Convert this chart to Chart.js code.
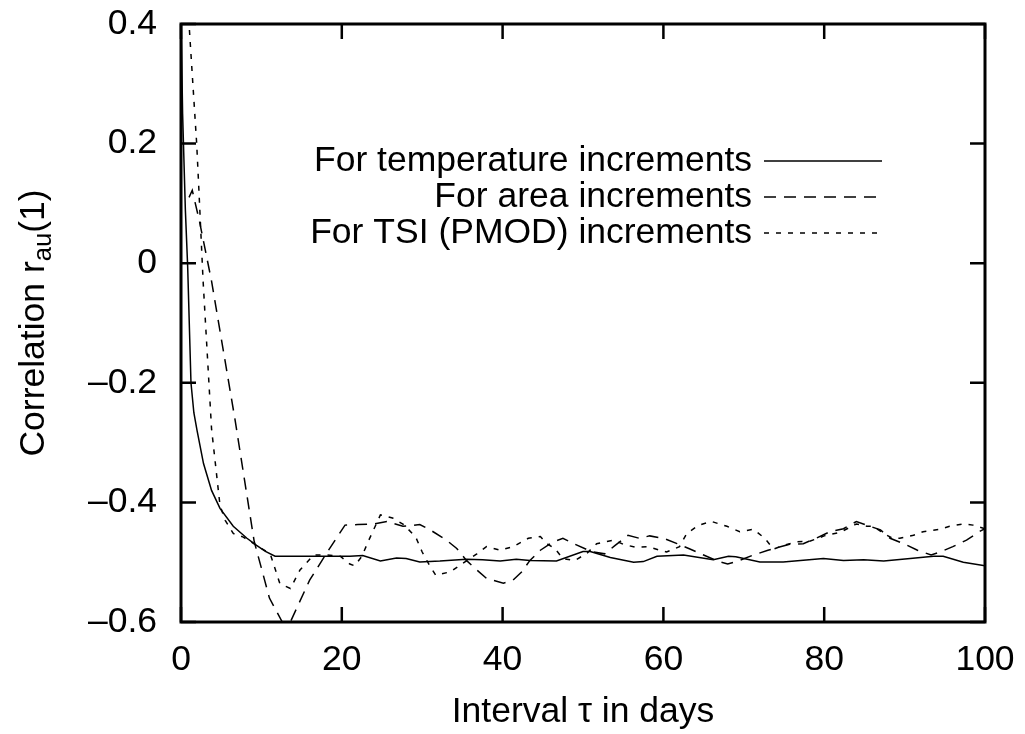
<!DOCTYPE html>
<html>
<head>
<meta charset="utf-8">
<script src="https://cdn.jsdelivr.net/npm/chart.js@4/dist/chart.umd.min.js"></script>
<style>
  html, body { margin: 0; padding: 0; background: #fff; }
  canvas { display: block; }
</style>
</head>
<body>
<canvas id="chart" width="1025" height="734"></canvas>
<script>
// values
const tempTau = [0, 0.2, 0.54, 0.83, 1.24, 1.6, 2.0, 2.8, 3.8, 4.85, 6.5, 8.2, 9.4, 10.5, 11.7, 14.8, 18, 21, 22.6, 24.8, 26.8, 28, 29.7, 32.2, 35.5, 37.5, 39.7, 41.7, 43.4, 46.7, 50, 50.9, 53.4, 56.3, 57.5, 59.2, 62.5, 66.2, 68.1, 69, 72, 74.9, 79.9, 82.4, 84.9, 87.4, 90.7, 93.6, 94.8, 97.3, 100];
const tempCorr = [0.42, 0.25, 0.09, -0.006, -0.2, -0.25, -0.28, -0.335, -0.38, -0.41, -0.44, -0.46, -0.472, -0.482, -0.49, -0.49, -0.49, -0.49, -0.489, -0.498, -0.493, -0.494, -0.4995, -0.498, -0.495, -0.496, -0.498, -0.495, -0.497, -0.498, -0.482, -0.482, -0.492, -0.5, -0.499, -0.49, -0.488, -0.496, -0.49, -0.491, -0.4995, -0.4995, -0.494, -0.497, -0.496, -0.498, -0.494, -0.49, -0.49, -0.5, -0.506];

const areaTau = [1, 1.4, 2.3, 3.8, 6.7, 9.1, 11, 12.6, 13.6, 16, 18.1, 20.4, 22, 24, 25.6, 27.6, 29.7, 31, 33, 34.3, 35.5, 36.8, 38, 40.1, 41.3, 42.4, 43.4, 44.7, 46.3, 47.5, 49, 51, 52.7, 54, 55.6, 57, 58.3, 60, 61.7, 63.3, 65, 66.7, 68, 69.5, 71, 73, 75.7, 77.4, 79, 80.7, 82.4, 84, 85.7, 87, 88.2, 89.9, 91.6, 93.3, 94.4, 96, 97.7, 99.4, 100];
const areaCorr = [0.11, 0.122, 0.07, -0.03, -0.26, -0.465, -0.56, -0.6, -0.6, -0.53, -0.485, -0.438, -0.437, -0.436, -0.432, -0.44, -0.437, -0.446, -0.463, -0.477, -0.497, -0.513, -0.527, -0.535, -0.53, -0.516, -0.497, -0.48, -0.466, -0.46, -0.47, -0.482, -0.486, -0.472, -0.455, -0.46, -0.456, -0.46, -0.469, -0.478, -0.488, -0.498, -0.503, -0.497, -0.489, -0.48, -0.47, -0.469, -0.46, -0.449, -0.444, -0.432, -0.44, -0.446, -0.46, -0.469, -0.48, -0.488, -0.483, -0.474, -0.463, -0.448, -0.444];

const tsiTau = [0.8, 1.0, 1.95, 2.2, 2.75, 3.8, 4.85, 5.5, 6.5, 7.75, 9.4, 11.1, 12.3, 13.6, 14.8, 16.5, 18.1, 19.8, 21, 21.6, 22.5, 23.3, 24.8, 26.3, 27.7, 29.2, 30, 30.9, 31.7, 33.5, 34.7, 36.8, 38, 39.7, 41.3, 43.2, 44.7, 45.5, 46.5, 47.5, 49, 50.5, 51.7, 53.8, 55, 56.5, 58, 60.4, 62, 62.9, 64.4, 66, 67.9, 69.5, 71.2, 72.6, 73.7, 74.9, 76.6, 78.2, 80, 82, 84, 85.3, 86.1, 87.4, 88.5, 89.4, 91.1, 92.3, 94.4, 95.6, 97.3, 98.5, 100];
const tsiCorr = [0.45, 0.4, 0.2, 0.13, -0.03, -0.277, -0.405, -0.43, -0.452, -0.458, -0.472, -0.486, -0.536, -0.544, -0.513, -0.488, -0.488, -0.49, -0.503, -0.506, -0.49, -0.465, -0.421, -0.426, -0.437, -0.458, -0.483, -0.505, -0.522, -0.516, -0.505, -0.486, -0.474, -0.48, -0.474, -0.46, -0.457, -0.469, -0.477, -0.494, -0.497, -0.485, -0.469, -0.463, -0.47, -0.475, -0.474, -0.483, -0.474, -0.452, -0.438, -0.432, -0.44, -0.449, -0.445, -0.46, -0.478, -0.472, -0.466, -0.465, -0.456, -0.45, -0.436, -0.44, -0.44, -0.452, -0.46, -0.46, -0.455, -0.449, -0.445, -0.44, -0.436, -0.438, -0.444];

const seriesLabels = ["For temperature increments", "For area increments", "For TSI (PMOD) increments"];

const xTicks = [0, 20, 40, 60, 80, 100];
const xTickLabels = ["0", "20", "40", "60", "80", "100"];
const yTicks = [-0.6, -0.4, -0.2, 0, 0.2, 0.4];
const yTickLabels = ["\u20130.6", "\u20130.4", "\u20130.2", "0", "0.2", "0.4"];

const family = "'Liberation Sans', Arial, Helvetica, sans-serif";
const fontSize = 35.5;

function points(xs, ys) {
  return xs.map((x, i) => ({ x, y: ys[i] }));
}

// gnuplot style frame, inward ticks, key and axis titles
const gnuplotFrame = {
  id: "gnuplotFrame",
  afterDatasetsDraw(chart) {
    const ctx = chart.ctx;
    const a = chart.chartArea;
    const sx = chart.scales.x;
    const sy = chart.scales.y;
    const tick = 15;

    ctx.save();
    ctx.strokeStyle = "#000";
    ctx.lineWidth = 2.5;
    ctx.beginPath();
    xTicks.forEach((v) => {
      const px = sx.getPixelForValue(v);
      ctx.moveTo(px, a.bottom);
      ctx.lineTo(px, a.bottom - tick);
      ctx.moveTo(px, a.top);
      ctx.lineTo(px, a.top + tick);
    });
    yTicks.forEach((v) => {
      const py = sy.getPixelForValue(v);
      ctx.moveTo(a.left, py);
      ctx.lineTo(a.left + tick, py);
      ctx.moveTo(a.right, py);
      ctx.lineTo(a.right - tick, py);
    });
    ctx.stroke();
    ctx.lineWidth = 3;
    ctx.strokeRect(a.left, a.top, a.right - a.left, a.bottom - a.top);

    // key
    ctx.fillStyle = "#000";
    ctx.font = `${fontSize}px ${family}`;
    ctx.textAlign = "right";
    ctx.textBaseline = "middle";
    chart.data.datasets.forEach((ds, i) => {
      const y = 161 + i * 36;
      ctx.fillText(ds.label, 752, y);
      ctx.lineWidth = ds.borderWidth;
      ctx.setLineDash(ds.borderDash || []);
      ctx.beginPath();
      ctx.moveTo(764, y);
      ctx.lineTo(882, y);
      ctx.stroke();
    });
    ctx.setLineDash([]);

    // x title
    ctx.textAlign = "center";
    ctx.fillText("Interval \u03c4 in days", (a.left + a.right) / 2, 712);

    // y title with subscript
    ctx.translate(34, (a.top + a.bottom) / 2);
    ctx.rotate(-Math.PI / 2);
    const main = "Correlation r";
    const sub = "au";
    const tail = "(1)";
    ctx.font = `${fontSize}px ${family}`;
    const w1 = ctx.measureText(main).width;
    const w3 = ctx.measureText(tail).width;
    ctx.font = `${fontSize * 0.72}px ${family}`;
    const w2 = ctx.measureText(sub).width;
    let x0 = -(w1 + w2 + w3) / 2;
    ctx.textAlign = "left";
    ctx.font = `${fontSize}px ${family}`;
    ctx.fillText(main, x0, 0);
    ctx.font = `${fontSize * 0.72}px ${family}`;
    ctx.fillText(sub, x0 + w1, 10);
    ctx.font = `${fontSize}px ${family}`;
    ctx.fillText(tail, x0 + w1 + w2, 0);
    ctx.restore();
  },
};

new Chart(document.getElementById("chart"), {
  type: "line",
  data: {
    datasets: [
      {
        label: seriesLabels[0],
        data: points(tempTau, tempCorr),
        borderColor: "#000",
        borderWidth: 1.5,
      },
      {
        label: seriesLabels[1],
        data: points(areaTau, areaCorr),
        borderColor: "#000",
        borderWidth: 1.5,
        borderDash: [12, 8],
      },
      {
        label: seriesLabels[2],
        data: points(tsiTau, tsiCorr),
        borderColor: "#000",
        borderWidth: 1.5,
        borderDash: [5, 7],
      },
    ],
  },
  options: {
    responsive: false,
    animation: false,
    layout: { padding: { left: 0, right: 40, top: 24, bottom: 0 } },
    elements: { point: { radius: 0 }, line: { tension: 0, fill: false } },
    plugins: { legend: { display: false }, tooltip: { enabled: false } },
    scales: {
      x: {
        type: "linear",
        min: 0,
        max: 100,
        afterFit(s) {
          s.height = 112;
          s.paddingLeft = 0;
          s.paddingRight = 0;
        },
        afterBuildTicks(s) { s.ticks = xTicks.map((v) => ({ value: v })); },
        ticks: {
          callback: (v, i) => xTickLabels[i],
          font: { family, size: fontSize },
          color: "#000",
          padding: 17,
          maxRotation: 0,
          autoSkip: false,
        },
        grid: { display: false, drawTicks: false },
        border: { display: false },
      },
      y: {
        type: "linear",
        min: -0.6,
        max: 0.4,
        afterFit(s) {
          s.width = 181;
          s.paddingTop = 0;
          s.paddingBottom = 0;
        },
        afterBuildTicks(s) { s.ticks = yTicks.map((v) => ({ value: v })); },
        ticks: {
          callback: (v, i) => yTickLabels[i],
          font: { family, size: fontSize },
          color: "#000",
          padding: 24,
          autoSkip: false,
        },
        grid: { display: false, drawTicks: false },
        border: { display: false },
      },
    },
  },
  plugins: [gnuplotFrame],
});
</script>
</body>
</html>
